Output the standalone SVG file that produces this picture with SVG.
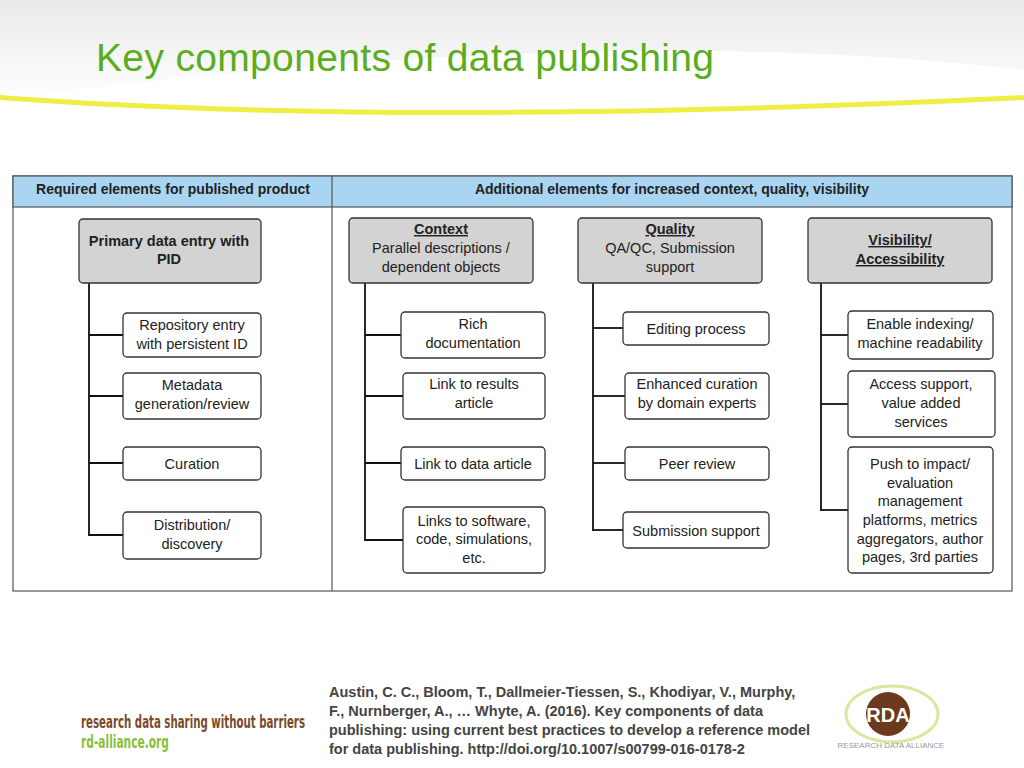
<svg xmlns="http://www.w3.org/2000/svg" width="1024" height="768" viewBox="0 0 1024 768">
<defs>
<linearGradient id="bg" x1="0" y1="0" x2="0" y2="1"><stop offset="0" stop-color="#e9e9e9"/><stop offset="1" stop-color="#ffffff"/></linearGradient>
<style>
text{font-family:"Liberation Sans",Arial,sans-serif;fill:#222}
.box{fill:#fff;stroke:#333;stroke-width:1.3}
.main{fill:#d3d3d3;stroke:#333;stroke-width:1.3}
.t{font-size:14.5px;text-anchor:middle}
.b{font-size:14.5px;text-anchor:middle;font-weight:bold}
.u{text-decoration:underline}
.c line{stroke:#111;stroke-width:1.8}
</style>
</defs>
<rect width="1024" height="768" fill="#fff"/>
<path d="M0 0H1024V70Q600 20 0 100Z" fill="url(#bg)"/>
<path d="M0 95Q400 125 1024 95L1024 100Q400 130 0 100Z" fill="#eeee44"/>
<text x="96" y="71" style="font-size:39px;fill:#5aad1e" textLength="618">Key components of data publishing</text>

<rect x="13" y="176" width="999" height="415" fill="#fff" stroke="#555" stroke-width="1.2"/>
<rect x="13" y="176" width="999" height="31" fill="#a9d5f2" stroke="#555" stroke-width="1.2"/>
<line x1="332" y1="176" x2="332" y2="591" stroke="#555" stroke-width="1.2"/>
<text x="173" y="194" style="font-size:14px;font-weight:bold;text-anchor:middle">Required elements for published product</text>
<text x="672" y="194" style="font-size:14px;font-weight:bold;text-anchor:middle">Additional elements for increased context, quality, visibility</text>

<g class="c" id="connectors">
<line x1="89" y1="283" x2="89" y2="536"/>
<line x1="89" y1="335" x2="123" y2="335"/><line x1="89" y1="396" x2="123" y2="396"/><line x1="89" y1="463" x2="123" y2="463"/><line x1="89" y1="535" x2="123" y2="535"/>
<line x1="365" y1="283" x2="365" y2="541"/>
<line x1="365" y1="335" x2="401" y2="335"/><line x1="365" y1="396" x2="403" y2="396"/><line x1="365" y1="463" x2="401" y2="463"/><line x1="365" y1="540" x2="403" y2="540"/>
<line x1="593" y1="283" x2="593" y2="531"/>
<line x1="593" y1="328" x2="623" y2="328"/><line x1="593" y1="396" x2="625" y2="396"/><line x1="593" y1="463" x2="625" y2="463"/><line x1="593" y1="530" x2="623" y2="530"/>
<line x1="821" y1="283" x2="821" y2="511"/>
<line x1="821" y1="335" x2="848" y2="335"/><line x1="821" y1="404" x2="848" y2="404"/><line x1="821" y1="510" x2="848" y2="510"/>
</g>

<g id="n-primary"><rect class="main" x="79" y="219" width="182" height="64" rx="4"/><text class="b" x="169" y="246">Primary data entry with</text><text class="b" x="169" y="264">PID</text></g>
<g id="n-repo"><rect class="box" x="123" y="313" width="138" height="44" rx="4"/><text class="t" x="192" y="330">Repository entry</text><text class="t" x="192" y="349">with persistent ID</text></g>
<g id="n-meta"><rect class="box" x="123" y="373" width="138" height="46" rx="4"/><text class="t" x="192" y="390">Metadata</text><text class="t" x="192" y="409">generation/review</text></g>
<g id="n-cur"><rect class="box" x="123" y="447" width="138" height="33" rx="4"/><text class="t" x="192" y="469">Curation</text></g>
<g id="n-dist"><rect class="box" x="123" y="512" width="138" height="47" rx="4"/><text class="t" x="192" y="530">Distribution/</text><text class="t" x="192" y="549">discovery</text></g>

<g id="n-context"><rect class="main" x="349" y="218" width="184" height="65" rx="4"/><text class="b u" x="441" y="234">Context</text><text class="t" x="441" y="253">Parallel descriptions /</text><text class="t" x="441" y="272">dependent objects</text></g>
<g id="n-rich"><rect class="box" x="401" y="312" width="144" height="46" rx="4"/><text class="t" x="473" y="329">Rich</text><text class="t" x="473" y="348">documentation</text></g>
<g id="n-linkres"><rect class="box" x="403" y="373" width="142" height="46" rx="4"/><text class="t" x="474" y="389">Link to results</text><text class="t" x="474" y="408">article</text></g>
<g id="n-linkdata"><rect class="box" x="401" y="447" width="144" height="33" rx="4"/><text class="t" x="473" y="469">Link to data article</text></g>
<g id="n-linksw"><rect class="box" x="403" y="507" width="142" height="66" rx="4"/><text class="t" x="474" y="526">Links to software,</text><text class="t" x="474" y="544">code, simulations,</text><text class="t" x="474" y="563">etc.</text></g>

<g id="n-quality"><rect class="main" x="578" y="218" width="184" height="65" rx="4"/><text class="b u" x="670" y="234">Quality</text><text class="t" x="670" y="253">QA/QC, Submission</text><text class="t" x="670" y="272">support</text></g>
<g id="n-edit"><rect class="box" x="623" y="312" width="146" height="33" rx="4"/><text class="t" x="696" y="334">Editing process</text></g>
<g id="n-enh"><rect class="box" x="625" y="373" width="144" height="46" rx="4"/><text class="t" x="697" y="389">Enhanced curation</text><text class="t" x="697" y="408">by domain experts</text></g>
<g id="n-peer"><rect class="box" x="625" y="447" width="144" height="33" rx="4"/><text class="t" x="697" y="469">Peer review</text></g>
<g id="n-sub"><rect class="box" x="623" y="512" width="146" height="36" rx="4"/><text class="t" x="696" y="536">Submission support</text></g>

<g id="n-vis"><rect class="main" x="808" y="218" width="184" height="65" rx="4"/><text class="b u" x="900" y="245">Visibility/</text><text class="b u" x="900" y="264">Accessibility</text></g>
<g id="n-index"><rect class="box" x="848" y="311" width="145" height="48" rx="4"/><text class="t" x="920" y="329">Enable indexing/</text><text class="t" x="920" y="348">machine readability</text></g>
<g id="n-access"><rect class="box" x="848" y="371" width="147" height="66" rx="4"/><text class="t" x="921" y="389">Access support,</text><text class="t" x="921" y="408">value added</text><text class="t" x="921" y="427">services</text></g>
<g id="n-push"><rect class="box" x="848" y="447" width="145" height="126" rx="4"/><text class="t" x="920" y="469">Push to impact/</text><text class="t" x="920" y="488">evaluation</text><text class="t" x="920" y="506">management</text><text class="t" x="920" y="525">platforms, metrics</text><text class="t" x="920" y="544">aggregators, author</text><text class="t" x="920" y="562">pages, 3rd parties</text></g>

<text x="81" y="728" style="font-size:17px;font-weight:bold;fill:#7a4a2a;font-family:'DejaVu Sans Condensed',sans-serif" textLength="224" lengthAdjust="spacingAndGlyphs">research data sharing without barriers</text>
<text x="81" y="748" style="font-size:17px;font-weight:bold;fill:#8bbf3a;font-family:'DejaVu Sans Condensed',sans-serif" textLength="88" lengthAdjust="spacingAndGlyphs">rd-alliance.org</text>
<g style="font-size:14.5px;font-weight:bold">
<text x="329" y="697" style="fill:#444">Austin, C. C., Bloom, T., Dallmeier-Tiessen, S., Khodiyar, V., Murphy,</text>
<text x="329" y="716" style="fill:#444">F., Nurnberger, A., … Whyte, A. (2016). Key components of data</text>
<text x="329" y="735" style="fill:#444">publishing: using current best practices to develop a reference model</text>
<text x="329" y="754" style="fill:#444">for data publishing. http://doi.org/10.1007/s00799-016-0178-2</text>
</g>
<ellipse cx="892" cy="714" rx="46" ry="28" fill="none" stroke="#d8e8a0" stroke-width="3"/>
<ellipse cx="888" cy="714" rx="22" ry="22" fill="#6b3a1e"/>
<text x="888" y="722" style="font-size:20px;font-weight:bold;fill:#fff;text-anchor:middle">RDA</text>
<text x="891" y="748" style="font-size:8px;fill:#999;text-anchor:middle">RESEARCH DATA ALLIANCE</text>
</svg>
